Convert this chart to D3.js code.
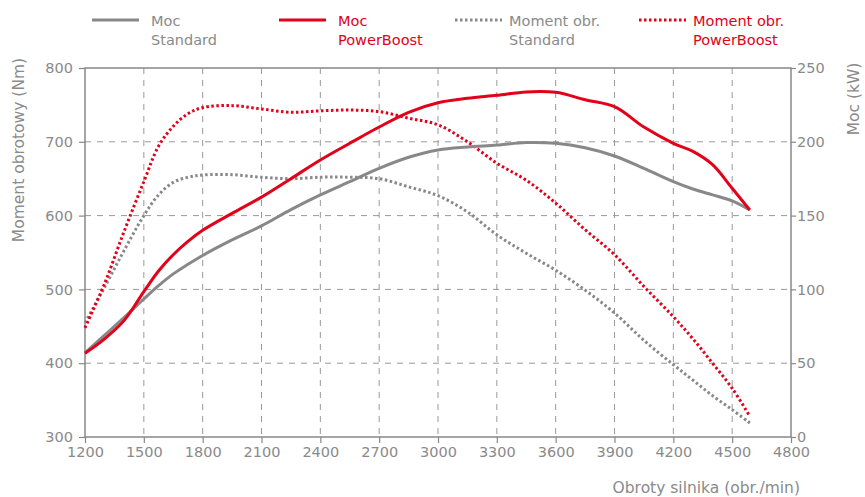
<!DOCTYPE html>
<html>
<head>
<meta charset="utf-8">
<script src="https://cdn.jsdelivr.net/npm/d3@7"></script>
<style>
  body { margin: 0; background: #fff; }
  svg text { font-family: "DejaVu Sans", sans-serif; }
</style>
</head>
<body>
<div class="graph"></div>
<script>
// rpm values (x) shared by all series
var rpm = [1200, 1300, 1400, 1500, 1575, 1650, 1725, 1800, 1950, 2100, 2250, 2400, 2550, 2700, 2850, 3000, 3150, 3300, 3450, 3600, 3750, 3900, 4050, 4200, 4300, 4400, 4500, 4590];

// power, kW
var powerStandard = [57, 69, 81, 93.5, 102.5, 110.5, 117, 123, 133.5, 143, 154, 164, 173, 182, 189.5, 194.5, 196.5, 197.8, 199.5, 199, 196, 190.4, 182, 173, 168, 164, 160, 153.8];
var powerBoost = [56.7, 66.5, 79, 98.5, 112.5, 123.5, 132.5, 140, 151.5, 162.5, 175, 187.7, 199, 210, 220, 226.5, 229.5, 231.5, 233.8, 233.5, 228.5, 223.8, 210, 199, 193.5, 184.5, 168.5, 153.8];

// torque, Nm
var torqueStandard = [455, 503, 553, 600, 628, 645, 652, 655, 655.5, 652, 650, 652, 652, 650, 639, 627, 605, 574, 549, 526, 499, 468, 431, 398, 377, 356, 337, 319];
var torqueBoost = [448, 508, 579, 646, 694, 721, 738, 746.5, 749, 744.5, 740, 742, 743, 741, 732, 723, 700, 671, 648, 617, 581, 547, 504, 463, 433, 400, 366, 328];

var xTicks = [1200, 1500, 1800, 2100, 2400, 2700, 3000, 3300, 3600, 3900, 4200, 4500, 4800];
var nmTicks = [300, 400, 500, 600, 700, 800];
var kwTicks = [0, 50, 100, 150, 200, 250];

var grey = '#888888';
var red = '#e2001a';
var textGrey = '#8a8a8a';

var width = 865, height = 497;
var plotLeft = 85, plotRight = 791, plotTop = 68, plotBottom = 437;

var svg = d3.select('.graph')
    .append('svg')
    .attr('width', width)
    .attr('height', height);

var xScale = d3.scaleLinear().domain([1200, 4800]).range([plotLeft, plotRight]);
var yNm = d3.scaleLinear().domain([300, 800]).range([plotBottom, plotTop]);
var yKw = d3.scaleLinear().domain([0, 250]).range([plotBottom, plotTop]);

// grid
svg.append('g')
    .selectAll('line')
    .data(xTicks.slice(1, -1))
    .enter()
    .append('line')
    .attr('x1', d => xScale(d))
    .attr('x2', d => xScale(d))
    .attr('y1', plotTop)
    .attr('y2', plotBottom)
    .attr('stroke', '#999')
    .attr('stroke-width', 1)
    .attr('stroke-dasharray', '6,6');

svg.append('g')
    .selectAll('line')
    .data(nmTicks.slice(1, -1))
    .enter()
    .append('line')
    .attr('x1', plotLeft)
    .attr('x2', plotRight)
    .attr('y1', d => yNm(d))
    .attr('y2', d => yNm(d))
    .attr('stroke', '#999')
    .attr('stroke-width', 1)
    .attr('stroke-dasharray', '6,6');

// axes
function styleAxis(g) {
    g.select('.domain').remove();
    g.selectAll('.tick line').attr('stroke', grey).attr('stroke-width', 1.2);
    g.selectAll('.tick text')
        .attr('fill', textGrey)
        .style('font-size', '14.5px');
}

svg.append('g')
    .attr('transform', 'translate(0,' + plotBottom + ')')
    .call(d3.axisBottom(xScale).tickValues(xTicks).tickSize(6).tickPadding(4).tickFormat(d3.format('d')))
    .call(styleAxis);

svg.append('g')
    .attr('transform', 'translate(' + plotLeft + ',0)')
    .call(d3.axisLeft(yNm).tickValues(nmTicks).tickSize(6).tickPadding(6))
    .call(styleAxis);

svg.append('g')
    .attr('transform', 'translate(' + plotRight + ',0)')
    .call(d3.axisRight(yKw).tickValues(kwTicks).tickSize(5).tickPadding(1))
    .call(styleAxis);

// frame
svg.append('rect')
    .attr('x', plotLeft)
    .attr('y', plotTop)
    .attr('width', plotRight - plotLeft)
    .attr('height', plotBottom - plotTop)
    .attr('fill', 'none')
    .attr('stroke', grey)
    .attr('stroke-width', 1.5);

// axis titles
svg.append('text')
    .attr('transform', 'translate(24,150) rotate(-90)')
    .attr('text-anchor', 'middle')
    .attr('fill', textGrey)
    .style('font-size', '15.5px')
    .text('Moment obrotowy (Nm)');

svg.append('text')
    .attr('transform', 'translate(859,99) rotate(-90)')
    .attr('text-anchor', 'middle')
    .attr('fill', textGrey)
    .style('font-size', '15.5px')
    .text('Moc (kW)');

svg.append('text')
    .attr('x', 800)
    .attr('y', 493)
    .attr('text-anchor', 'end')
    .attr('fill', textGrey)
    .style('font-size', '15.5px')
    .text('Obroty silnika (obr./min)');

// series
var series = [
    { values: torqueStandard, scale: yNm, color: grey, dotted: true },
    { values: torqueBoost, scale: yNm, color: red, dotted: true },
    { values: powerStandard, scale: yKw, color: grey, dotted: false },
    { values: powerBoost, scale: yKw, color: red, dotted: false }
];

series.forEach(function (s) {
    var line = d3.line()
        .x((d, i) => xScale(rpm[i]))
        .y(d => s.scale(d))
        .curve(d3.curveCatmullRom.alpha(0.5));

    svg.append('path')
        .datum(s.values)
        .attr('d', line)
        .attr('fill', 'none')
        .attr('stroke', s.color)
        .attr('stroke-width', 3)
        .attr('stroke-dasharray', s.dotted ? '2.5,2.5' : null);
});

// legend
var legend = [
    { x: 92, label: ['Moc', 'Standard'], color: grey, dotted: false, textColor: textGrey },
    { x: 279, label: ['Moc', 'PowerBoost'], color: red, dotted: false, textColor: red },
    { x: 455, label: ['Moment obr.', 'Standard'], color: grey, dotted: true, textColor: textGrey },
    { x: 639, label: ['Moment obr.', 'PowerBoost'], color: red, dotted: true, textColor: red }
];

legend.forEach(function (l) {
    svg.append('line')
        .attr('x1', l.x)
        .attr('x2', l.x + 47)
        .attr('y1', 20)
        .attr('y2', 20)
        .attr('stroke', l.color)
        .attr('stroke-width', 3)
        .attr('stroke-dasharray', l.dotted ? '2.5,2.5' : null);

    var tx = l.x + (l.dotted ? 54 : 59);
    var t = svg.append('text')
        .attr('x', tx)
        .attr('y', 26)
        .attr('fill', l.textColor)
        .style('font-size', '14.5px');
    t.append('tspan').attr('x', tx).text(l.label[0]);
    t.append('tspan').attr('x', tx).attr('dy', 19).text(l.label[1]);
});
</script>
</body>
</html>
